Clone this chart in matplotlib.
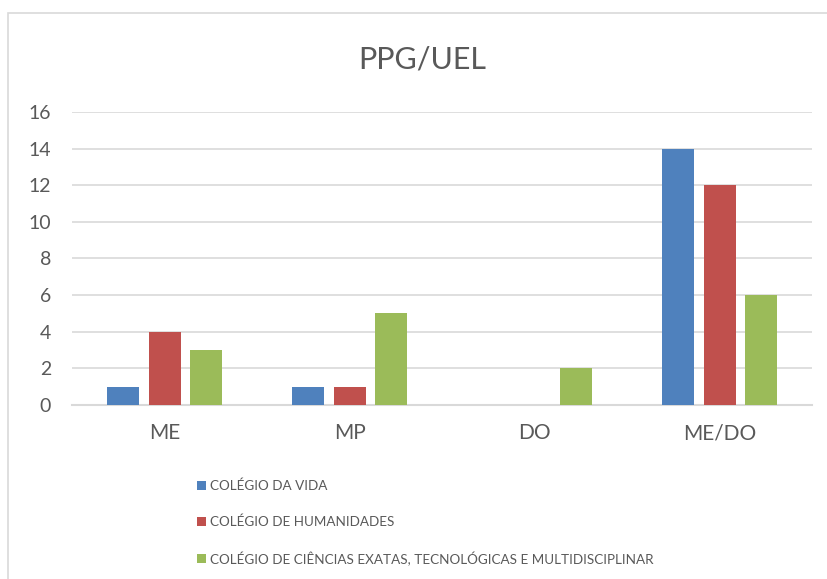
import matplotlib
matplotlib.use("Agg")
from matplotlib import pyplot as plt
from matplotlib.patches import Rectangle
import numpy as np

categories = ["ME", "MP", "DO", "ME/DO"]
series_names = [
    "COLÉGIO DA VIDA",
    "COLÉGIO DE HUMANIDADES",
    "COLÉGIO DE CIÊNCIAS EXATAS, TECNOLÓGICAS E MULTIDISCIPLINAR",
]
vida = [1, 1, 0, 14]
humanidades = [4, 1, 0, 12]
exatas = [3, 5, 2, 6]
colors = ["#4F81BD", "#C0504D", "#9BBB59"]

plt.rcParams["font.family"] = ["Lato", "DejaVu Sans"]
text_color = "#595959"
grid_color = "#D9D9D9"

fig = plt.figure(figsize=(8.27, 5.79), dpi=100)
ax = fig.add_axes([0.0871, 0.3005, 0.8948, 0.5061])

x = np.arange(len(categories))
bar_width = 0.173
step = 0.222
for i, (vals, name) in enumerate(zip([vida, humanidades, exatas], series_names)):
    ax.bar(x + (i - 1) * step, vals, bar_width, color=colors[i], label=name, zorder=3)

ax.set_xlim(-0.5, len(categories) - 0.5)
ax.set_ylim(0, 16)
ax.set_yticks(range(0, 17, 2))
ax.set_xticks(x)
ax.set_xticklabels(categories, fontsize=15, color=text_color)
ax.tick_params(axis="y", labelsize=14, labelcolor=text_color, length=0, pad=15)
ax.tick_params(axis="x", length=0, pad=13)
ax.grid(axis="y", color=grid_color, linewidth=1.2, zorder=0)
for side in ["top", "right", "left"]:
    ax.spines[side].set_visible(False)
ax.spines["bottom"].set_color(grid_color)
ax.spines["bottom"].set_linewidth(1.5)

fig.text(0.511, 0.897, "PPG/UEL", ha="center", va="center", fontsize=22, color=text_color)

leg = fig.legend(loc="upper left", frameon=False,
                 fontsize=9.7, labelcolor=text_color, handlelength=0.65, handleheight=0.65,
                 handletextpad=0.35, labelspacing=1.72, borderaxespad=0, borderpad=0)
leg.set_bbox_to_anchor((197 / 827, 1 - 480 / 579), transform=fig.transFigure)

fig.patches.append(Rectangle((8 / 827, -0.1), 1.2, 1 - 13 / 579 + 0.1,
                             transform=fig.transFigure, fill=False,
                             edgecolor=grid_color, linewidth=1.2))

fig.savefig("out.png", dpi=100)
